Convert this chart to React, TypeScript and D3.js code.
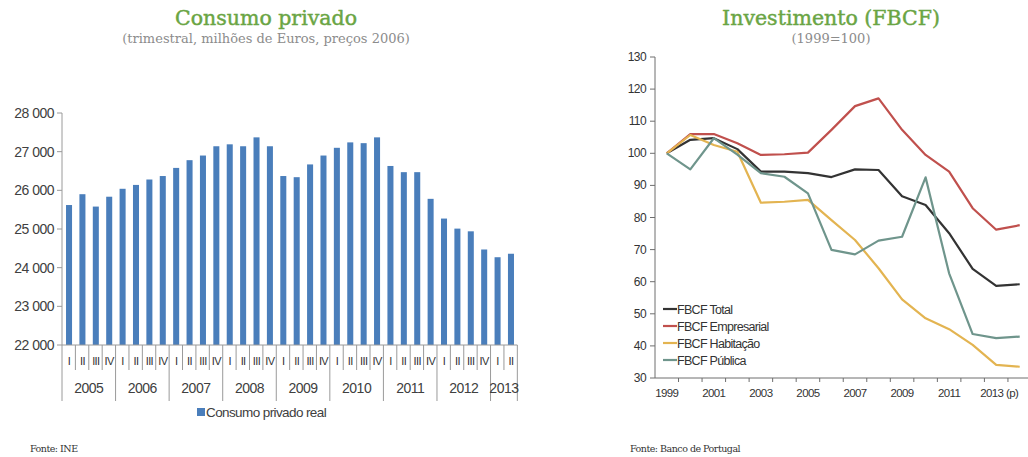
import React from "react";
import * as d3 from "d3";

// ---------- Left chart data ----------
const quarterYears = ["2005", "2006", "2007", "2008", "2009", "2010", "2011", "2012", "2013"];
const quarterNames = ["I", "II", "III", "IV"];
const consumo = [
  25620, 25900, 25580, 25835,
  26040, 26140, 26280, 26370,
  26580, 26780, 26900, 27140,
  27190, 27140, 27370, 27140,
  26370, 26340, 26670, 26900,
  27100, 27240, 27220, 27370,
  26630, 26470, 26470, 25780,
  25270, 25010, 24940, 24470,
  24270, 24360,
];
const consumoTicks = [22000, 23000, 24000, 25000, 26000, 27000, 28000];

// ---------- Right chart data ----------
const fbcfYears = ["1999", "2000", "2001", "2002", "2003", "2004", "2005", "2006", "2007", "2008", "2009", "2010", "2011", "2012", "2013", "2014"];
const fbcfYearLabels = ["1999", "", "2001", "", "2003", "", "2005", "", "2007", "", "2009", "", "2011", "", "2013 (p)", ""];
const fbcfTotal = [100, 104.2, 104.7, 101.3, 94.3, 94.3, 93.8, 92.6, 95.0, 94.8, 86.6, 83.9, 75.1, 64.0, 58.7, 59.2];
const fbcfEmpresarial = [100, 106.0, 106.0, 103.1, 99.5, 99.7, 100.2, 107.3, 114.7, 117.1, 107.3, 99.5, 94.3, 82.9, 76.2, 77.6];
const fbcfHabitacao = [100, 105.7, 102.6, 100.5, 84.6, 84.9, 85.5, 79.2, 73.0, 64.2, 54.5, 48.6, 45.2, 40.3, 34.1, 33.5];
const fbcfPublica = [100, 95.0, 104.7, 99.6, 93.8, 92.7, 87.5, 69.9, 68.5, 72.8, 74.0, 92.5, 62.6, 43.7, 42.4, 42.9];
const fbcfTicks = [30, 40, 50, 60, 70, 80, 90, 100, 110, 120, 130];
const fbcfSeriesNames = ["FBCF Total", "FBCF Empresarial", "FBCF Habitação", "FBCF Pública"];
const fbcfColors = ["#333333", "#c0504d", "#e3b451", "#6f958c"];

export default function App() {
  // ----- Left scales -----
  const idx = consumo.map((_, i) => i);
  const xL = d3.scaleBand<number>().domain(idx).range([62, 518]).paddingInner(0.55).paddingOuter(0.3);
  const step = xL.step();
  const left0 = 62;
  const yL = d3.scaleLinear().domain([22000, 28000]).range([345, 113]);
  const fmt = (v: number) => d3.format(",")(v).replace(",", " ");

  // ----- Right scales -----
  const xR = d3.scaleBand<number>().domain(fbcfYears.map((_, i) => i)).range([655, 655 + 16 * 23.53]).padding(0);
  const yR = d3.scaleLinear().domain([30, 130]).range([378, 57]);
  const line = d3
    .line<number>()
    .x((_, i) => (xR(i) as number) + xR.bandwidth() / 2)
    .y((d) => yR(d));
  const series = [fbcfTotal, fbcfEmpresarial, fbcfHabitacao, fbcfPublica];

  const sans = "'Liberation Sans', Arial, sans-serif";
  const serif = "'DejaVu Serif', serif";
  const axisCol = "#9a9a9a";
  const axisR = "#6e6e6e";
  const green = "#6aa544";

  const years = quarterYears.map((y, yi) => {
    const startI = yi * 4;
    const endI = Math.min(startI + 4, consumo.length);
    return { y, x0: left0 + startI * step, x1: left0 + endI * step };
  });

  return (
    <svg width={1028} height={457} style={{ position: "absolute", left: 0, top: 0, background: "#fff" }}>
      {/* Titles */}
      <text x={266} y={25} textAnchor="middle" fontFamily={serif} fontSize={20.5} fill={green} stroke={green} strokeWidth={0.45}>Consumo privado</text>
      <text x={266} y={43} textAnchor="middle" fontFamily={serif} fontSize={13} fill="#8c8c8c">(trimestral, milhões de Euros, preços 2006)</text>
      <text x={831} y={25} textAnchor="middle" fontFamily={serif} fontSize={20.5} fill={green} stroke={green} strokeWidth={0.45}>Investimento (FBCF)</text>
      <text x={831} y={43} textAnchor="middle" fontFamily={serif} fontSize={13} fill="#8c8c8c">(1999=100)</text>

      {/* ---------- Left chart ---------- */}
      {consumo.map((v, i) => (
        <rect key={i} x={xL(i)} y={yL(v)} width={xL.bandwidth()} height={yL(22000) - yL(v)} fill="#4a7ebb" />
      ))}
      <line x1={62} x2={62} y1={113} y2={345} stroke={axisCol} strokeWidth={1} />
      {consumoTicks.map((t) => (
        <g key={t}>
          <line x1={57} x2={62} y1={yL(t)} y2={yL(t)} stroke={axisCol} />
          <text x={54} y={yL(t) + 5} textAnchor="end" fontFamily={sans} fontSize={14} letterSpacing={-0.5} fill="#404040">{fmt(t)}</text>
        </g>
      ))}
      <line x1={62} x2={left0 + consumo.length * step} y1={345} y2={345} stroke={axisCol} />
      {/* quarter separators and labels */}
      {idx.map((i) => (
        <g key={i}>
          {i % 4 !== 0 && <line x1={left0 + i * step} x2={left0 + i * step} y1={345} y2={370} stroke={axisCol} />}
          <text x={(xL(i) as number) + xL.bandwidth() / 2} y={365} textAnchor="middle" fontFamily={sans} fontSize={11} letterSpacing={-0.6} fill="#333">
            {quarterNames[i % 4]}
          </text>
        </g>
      ))}
      {years.map((yr, k) => (
        <g key={yr.y}>
          <line x1={yr.x0} x2={yr.x0} y1={345} y2={401} stroke={axisCol} />
          {k === years.length - 1 && <line x1={yr.x1} x2={yr.x1} y1={345} y2={401} stroke={axisCol} />}
          <text x={(yr.x0 + yr.x1) / 2} y={393} textAnchor="middle" fontFamily={sans} fontSize={14} letterSpacing={-0.5} fill="#404040">{yr.y}</text>
        </g>
      ))}
      {/* legend */}
      <rect x={197} y={408} width={8} height={8} fill="#4a7ebb" />
      <text x={206} y={417} fontFamily={sans} fontSize={13.5} letterSpacing={-0.6} fill="#404040">Consumo privado real</text>

      {/* ---------- Right chart ---------- */}
      <line x1={655} x2={655} y1={57} y2={378} stroke={axisR} />
      {fbcfTicks.map((t) => (
        <g key={t}>
          <line x1={650} x2={655} y1={yR(t)} y2={yR(t)} stroke={axisR} />
          <text x={646} y={yR(t) + 4} textAnchor="end" fontFamily={sans} fontSize={12} letterSpacing={-0.6} fill="#333">{t}</text>
        </g>
      ))}
      <line x1={655} x2={1028} y1={378} y2={378} stroke={axisR} />
      {fbcfYears.map((_, i) => (
        <g key={i}>
          {i > 0 && <line x1={xR(i)} x2={xR(i)} y1={378} y2={382} stroke={axisR} />}
          {fbcfYearLabels[i] && (
            <text x={(xR(i) as number) + xR.bandwidth() / 2 + (fbcfYearLabels[i].length > 4 ? 3 : 0)} y={397} textAnchor="middle" fontFamily={sans} fontSize={11.5} letterSpacing={-0.6} fill="#333" style={{ whiteSpace: "pre" }}>
              {fbcfYearLabels[i]}
            </text>
          )}
        </g>
      ))}
      {series.map((s, k) => (
        <path key={k} d={line(s) as string} fill="none" stroke={fbcfColors[k]} strokeWidth={2.2} strokeLinejoin="round" />
      ))}
      {fbcfSeriesNames.map((n, k) => (
        <g key={n}>
          <line x1={663} x2={677} y1={309 + k * 17} y2={309 + k * 17} stroke={fbcfColors[k]} strokeWidth={2.2} />
          <text x={677} y={313.5 + k * 17} fontFamily={sans} fontSize={12.5} letterSpacing={-0.7} fill="#333">{n}</text>
        </g>
      ))}

      {/* Footers */}
      <text x={30} y={452} fontFamily={serif} fontSize={9.5} letterSpacing={-0.5} fill="#333">Fonte: INE</text>
      <text x={630} y={452} fontFamily={serif} fontSize={9.5} letterSpacing={-0.5} fill="#333">Fonte: Banco de Portugal</text>
    </svg>
  );
}
